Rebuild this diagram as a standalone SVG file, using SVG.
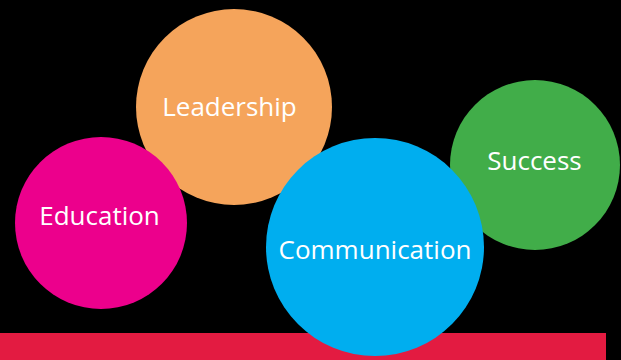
<svg xmlns="http://www.w3.org/2000/svg" width="621" height="360" viewBox="0 0 621 360">
<style>
.lbl{font-family:"Open Sans","Noto Sans",sans-serif;font-size:26px;fill:#ffffff;text-anchor:middle}
</style>
<rect x="0" y="0" width="621" height="360" fill="#000000"/>
<rect id="bar" x="0" y="333" width="606" height="27" fill="#E31B41"/>
<g id="success">
<circle cx="535" cy="165" r="85" fill="#41AD49"/>
<text class="lbl" x="534.5" y="170">Success</text>
</g>
<g id="leadership">
<circle cx="234" cy="107" r="98" fill="#F5A45B"/>
<text class="lbl" x="229.5" y="116">Leadership</text>
</g>
<g id="education">
<circle cx="101" cy="223" r="86" fill="#EC008C"/>
<text class="lbl" x="99.5" y="225">Education</text>
</g>
<g id="communication">
<circle cx="375" cy="247" r="109" fill="#00AEEF"/>
<text class="lbl" x="375" y="259">Communication</text>
</g>
<g id="connectors"></g>
</svg>
